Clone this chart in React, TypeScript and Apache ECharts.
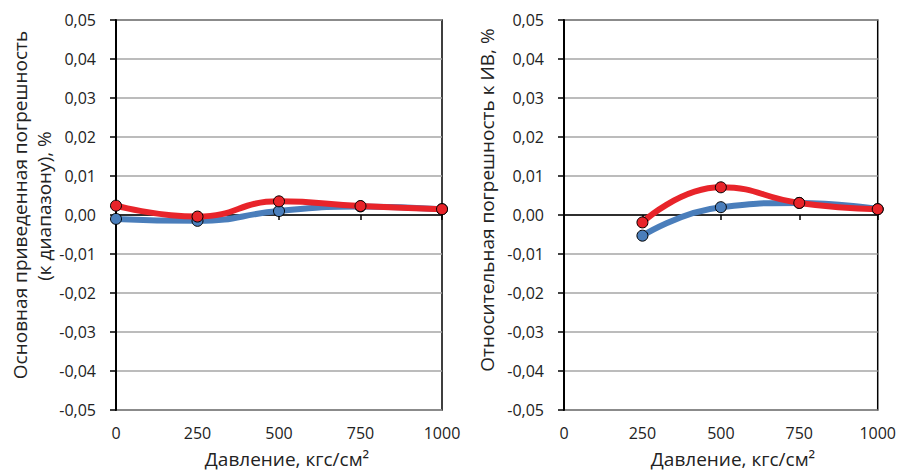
import React, { useEffect, useRef } from "react";
import * as echarts from "echarts";

const pressureLeft = [0, 250, 500, 750, 1000];
const leftBlue = [-0.001, -0.0015, 0.001, 0.0022, 0.0015];
const leftRed = [0.0024, -0.0004, 0.0035, 0.0023, 0.0015];

const pressureRight = [250, 500, 750, 1000];
const rightBlue = [-0.0053, 0.002, 0.0031, 0.0015];
const rightRed = [-0.0019, 0.0071, 0.0031, 0.0015];

const xTitle = "Давление, кгс/см²";
const leftYTitle1 = "Основная приведенная погрешность";
const leftYTitle2 = "(к диапазону), %";
const rightYTitle = "Относительная погрешность к ИВ, %";

const FONT = "'Open Sans', 'Noto Sans', sans-serif";
const BLUE = "#4a7ebb";
const RED = "#e8242a";

const pairs = (xs: number[], ys: number[]) => xs.map((x, i) => [x, ys[i]]);

const fmtY = (v: number) => (Math.abs(v) < 1e-9 ? "0,00" : v.toFixed(2).replace(".", ","));
const fmtX = (v: number) => String(Math.round(v));

export default function App() {
  const ref = useRef<HTMLDivElement>(null);
  useEffect(() => {
    if (!ref.current) return;
    const chart = echarts.init(ref.current, undefined, { renderer: "svg" });

    const grids = [
      { left: 116, right: 457, top: 20, bottom: 62 },
      { left: 564, right: 16, top: 20, bottom: 62 },
    ].map((g) => ({ ...g, show: true, borderColor: "#000", borderWidth: 1.5, backgroundColor: "transparent" }));

    const xAxes: any[] = [];
    const yAxes: any[] = [];
    [0, 1].forEach((gi) => {
      xAxes.push({
        gridIndex: gi,
        type: "value",
        min: 0,
        max: 1000,
        interval: 250,
        position: "bottom",
        axisLine: { show: false, onZero: false },
        axisTick: { show: false },
        splitLine: { show: false },
        axisLabel: { margin: 15, fontSize: 16, color: "#222", fontFamily: FONT, formatter: fmtX },
      });
      xAxes.push({
        gridIndex: gi,
        type: "value",
        min: 0,
        max: 1000,
        interval: 250,
        position: "bottom",
        axisLine: { show: true, onZero: true, lineStyle: { color: "#000", width: 1.5 } },
        axisTick: { show: true, length: 5, lineStyle: { color: "#000", width: 1.5 } },
        splitLine: { show: false },
        axisLabel: { show: false },
      });
      yAxes.push({
        gridIndex: gi,
        type: "value",
        min: -0.05,
        max: 0.05,
        interval: 0.01,
        axisLine: { show: true, onZero: false, lineStyle: { color: "#000", width: 2 } },
        axisTick: { show: true, length: 6, lineStyle: { color: "#000", width: 1.5 } },
        splitLine: { show: true, lineStyle: { color: "#a6a6a6", width: 1.5 } },
        axisLabel: { margin: 20, fontSize: 16, color: "#222", fontFamily: FONT, formatter: fmtY },
      });
    });

    const mkSeries = (name: string, xi: number, yi: number, data: number[][], color: string, z: number) => ({
      name,
      type: "line",
      xAxisIndex: xi,
      yAxisIndex: yi,
      data,
      smooth: 0.5,
      symbol: "circle",
      symbolSize: 11,
      z,
      lineStyle: { color, width: 6 },
      itemStyle: { color, borderColor: "#000", borderWidth: 1 },
    });

    const titleStyle = { fill: "#222", fontSize: 19, fontFamily: FONT, align: "center", verticalAlign: "middle" };

    chart.setOption({
      animation: false,
      grid: grids,
      xAxis: xAxes,
      yAxis: yAxes,
      series: [
        mkSeries("left-blue", 0, 0, pairs(pressureLeft, leftBlue), BLUE, 2),
        mkSeries("left-red", 0, 0, pairs(pressureLeft, leftRed), RED, 3),
        mkSeries("right-blue", 2, 1, pairs(pressureRight, rightBlue), BLUE, 2),
        mkSeries("right-red", 2, 1, pairs(pressureRight, rightRed), RED, 3),
      ],
      graphic: [
        { type: "text", x: 20, y: 205, rotation: Math.PI / 2, style: { ...titleStyle, text: leftYTitle1 } },
        { type: "text", x: 44, y: 206, rotation: Math.PI / 2, style: { ...titleStyle, text: leftYTitle2 } },
        { type: "text", x: 487, y: 200, rotation: Math.PI / 2, style: { ...titleStyle, text: rightYTitle } },
        { type: "text", x: 287, y: 459, style: { ...titleStyle, text: xTitle } },
        { type: "text", x: 733, y: 459, style: { ...titleStyle, text: xTitle } },
      ],
    });
    return () => chart.dispose();
  }, []);
  return <div ref={ref} style={{ width: 899, height: 472, position: "absolute", left: 0, top: 0 }} />;
}
